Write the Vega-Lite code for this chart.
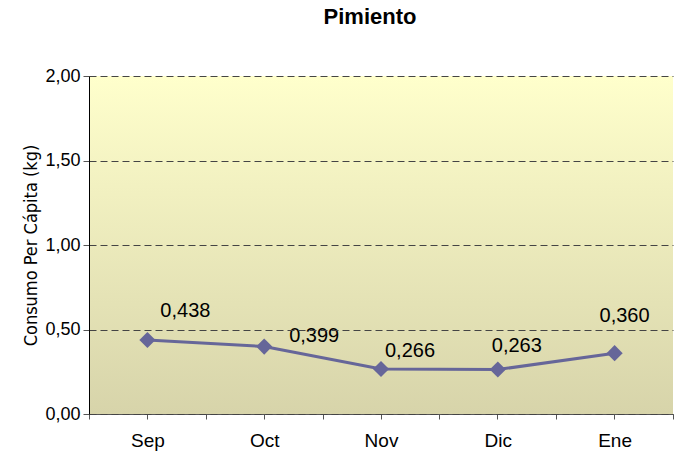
{
  "$schema": "https://vega.github.io/schema/vega-lite/v6.json",
  "width": 584,
  "height": 338,
  "autosize": {"type": "none"},
  "padding": {"left": 89, "top": 76, "right": 9, "bottom": 45},
  "background": "white",
  "title": {"text": "Pimiento", "font": "Liberation Sans", "fontSize": 22, "fontWeight": "bold", "color": "black", "offset": 38, "anchor": "middle", "dx": -11},
  "config": {"view": {"stroke": null}, "font": "Liberation Sans"},
  "resolve": {"axis": {"x": "independent"}},
  "layer": [
    {
      "data": {"values": [{"y0": 0, "y1": 2}]},
      "mark": {"type": "rect", "color": {"gradient": "linear", "x1": 0, "y1": 0, "x2": 0, "y2": 1, "stops": [{"offset": 0, "color": "#FFFFCC"}, {"offset": 1, "color": "#D7D4AA"}]}},
      "encoding": {
        "y": {"field": "y0", "type": "quantitative", "scale": {"domain": [0, 2]},
          "axis": {"zindex": 1, "values": [0, 0.5, 1, 1.5, 2], "labelExpr": "replace(format(datum.value, '.2f'), '.', ',')", "labelFontSize": 18, "labelColor": "black", "labelPadding": 3, "tickColor": "#555555", "tickSize": 6, "domainColor": "black", "domainWidth": 1, "grid": true, "gridColor": "#444444", "gridDash": [7, 4], "gridWidth": 1,
            "title": "Consumo Per Cápita (kg)", "titleFont": "DejaVu Sans Condensed", "titleFontSize": 18, "titleFontWeight": "normal", "titleColor": "black", "titlePadding": 4}},
        "y2": {"field": "y1"}
      }
    },
    {
      "data": {"values": [{"mes": "Sep", "valor": 0.438}, {"mes": "Oct", "valor": 0.399}, {"mes": "Nov", "valor": 0.266}, {"mes": "Dic", "valor": 0.263}, {"mes": "Ene", "valor": 0.36}]},
      "mark": {"type": "line", "color": "#666699", "strokeWidth": 3, "point": {"shape": "diamond", "size": 260, "color": "#666699", "filled": true, "opacity": 1}},
      "encoding": {
        "x": {"field": "mes", "type": "ordinal", "sort": null, "scale": {"type": "band", "paddingInner": 0, "paddingOuter": 0},
          "axis": {"title": null, "labelAngle": 0, "labelFontSize": 19, "labelColor": "black", "labelPadding": 12, "tickBand": "extent", "tickSize": 5, "tickColor": "#555555", "domainColor": "#555555", "domainWidth": 1, "grid": false, "orient": "bottom"}},
        "y": {"field": "valor", "type": "quantitative"}
      }
    },
    {
      "data": {"values": [{"mes": "Sep", "valor": 0.438, "etiqueta": "0,438"}, {"mes": "Oct", "valor": 0.399, "etiqueta": "0,399"}, {"mes": "Nov", "valor": 0.266, "etiqueta": "0,266"}, {"mes": "Dic", "valor": 0.263, "etiqueta": "0,263"}, {"mes": "Ene", "valor": 0.36, "etiqueta": "0,360"}]},
      "mark": {"type": "text", "fontSize": 20, "color": "black", "baseline": "middle",
        "dx": {"expr": "datum.mes === 'Sep' ? 38 : datum.mes === 'Oct' ? 50 : datum.mes === 'Nov' ? 29 : datum.mes === 'Dic' ? 19 : 10"},
        "dy": {"expr": "datum.mes === 'Sep' ? -29 : datum.mes === 'Oct' ? -11 : datum.mes === 'Nov' ? -18 : datum.mes === 'Dic' ? -24 : -37"}},
      "encoding": {
        "x": {"field": "mes", "type": "ordinal", "sort": null,
          "axis": {"title": null, "labels": false, "domain": false, "tickSize": 5, "tickColor": "#555555", "grid": false, "orient": "bottom"}},
        "y": {"field": "valor", "type": "quantitative"},
        "text": {"field": "etiqueta"}
      }
    }
  ]
}
